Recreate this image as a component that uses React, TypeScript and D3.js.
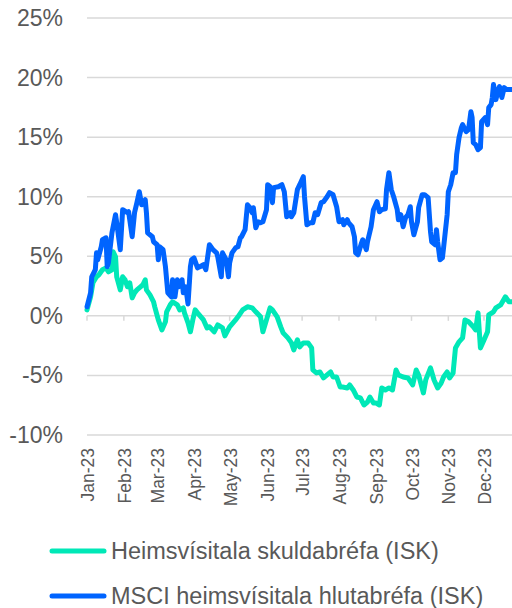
import * as d3 from 'd3'

// day offsets from 1 Jan 2023 and % change
const bondDays = [0, 3, 5, 8, 10, 13, 16, 18, 21, 22, 24, 25, 28, 30, 32, 34, 36, 38, 40, 42, 45, 47, 49, 50, 53, 56, 57, 60, 63, 66, 67, 70, 72, 76, 78, 81, 82, 85, 87, 89, 91, 93, 98, 101, 103, 107, 110, 114, 116, 120, 125, 127, 131, 135, 139, 142, 146, 148, 151, 154, 156, 160, 163, 165, 169, 172, 174, 177, 179, 182, 186, 189, 190, 193, 196, 199, 202, 205, 207, 210, 213, 215, 219, 221, 224, 227, 230, 233, 236, 238, 241, 243, 246, 248, 251, 254, 257, 260, 262, 266, 270, 274, 277, 279, 283, 285, 289, 292, 295, 298, 300, 303, 305, 308, 310, 313, 316, 318, 321, 325, 327, 329, 331, 334, 337, 338, 342, 344, 348, 352, 355, 358, 362]
const bondVals = [0.5, 1.6, 2.77, 3.28, 3.45, 3.87, 4.03, 3.7, 3.87, 5.38, 4.96, 3.28, 2.18, 3.28, 3.03, 2.44, 2.77, 1.51, 1.93, 2.18, 2.44, 2.61, 3.03, 2.18, 1.76, 1.18, 0.76, -0.34, -1.18, -0.5, 0.34, 0.92, 1.18, 0.92, 0.5, 0.67, 0.25, -0.59, -1.34, -0.34, 0.5, 0.25, -0.34, -1.01, -0.92, -1.34, -0.76, -1.01, -1.68, -0.92, -0.34, -0.08, 0.5, 0.76, 0.67, 0.34, -0.08, -1.34, -0.34, 0.67, 0.5, -0.08, -0.92, -1.43, -1.85, -2.27, -2.86, -2.02, -2.61, -2.27, -2.27, -2.69, -4.54, -4.79, -4.71, -5.21, -4.96, -4.71, -5.13, -5.13, -5.97, -5.97, -6.05, -5.8, -6.22, -6.81, -6.89, -7.48, -7.23, -6.81, -7.31, -7.31, -7.48, -6.05, -6.22, -6.05, -6.22, -4.54, -4.96, -5.13, -5.21, -5.8, -4.54, -4.96, -6.47, -5.38, -4.37, -5.38, -6.05, -5.63, -5.13, -4.71, -5.21, -4.79, -2.69, -2.18, -1.85, -0.34, -0.5, -0.92, -1.18, 0.25, -2.69, -2.02, -1.34, 0.08, 0.34, 0.67, 0.92, 1.6, 1.18, 1.18, 1.2]

const equityDays = [0, 3, 4, 7, 8, 9, 12, 13, 16, 17, 18, 21, 24, 25, 28, 30, 34, 35, 38, 40, 42, 44, 46, 49, 50, 51, 55, 56, 59, 60, 61, 64, 66, 68, 71, 72, 74, 76, 77, 80, 81, 83, 85, 87, 88, 90, 93, 95, 98, 100, 102, 103, 106, 109, 110, 113, 114, 117, 119, 120, 122, 125, 127, 129, 130, 133, 135, 137, 139, 140, 142, 144, 146, 148, 151, 152, 154, 156, 157, 161, 164, 166, 168, 171, 172, 174, 177, 179, 182, 183, 185, 188, 190, 192, 194, 197, 199, 202, 204, 207, 210, 212, 215, 216, 219, 220, 223, 225, 226, 228, 231, 232, 235, 236, 239, 241, 244, 246, 248, 251, 252, 254, 256, 258, 261, 262, 264, 266, 268, 270, 272, 273, 275, 278, 279, 282, 284, 287, 289, 290, 293, 294, 295, 297, 299, 300, 303, 304, 306, 308, 310, 311, 313, 315, 316, 319, 321, 323, 324, 325, 327, 329, 331, 332, 335, 337, 338, 340, 341, 342, 344, 346, 347, 349, 351, 353, 356, 358, 362]
const equityVals = [0.76, 1.93, 3.28, 3.87, 5.29, 4.71, 5.8, 6.39, 6.55, 4.12, 4.45, 6.97, 8.49, 7.82, 5.55, 8.91, 8.66, 8.74, 6.64, 8.66, 9.5, 10.42, 9.33, 9.75, 8.66, 6.97, 6.64, 6.22, 5.97, 4.71, 5.8, 5.55, 4.12, 1.93, 1.6, 3.03, 1.6, 3.03, 2.44, 3.03, 1.93, 2.44, 1.0, 4.12, 4.71, 4.87, 4.03, 4.12, 4.29, 3.87, 5.29, 5.97, 5.55, 5.29, 4.96, 3.28, 5.29, 4.71, 3.28, 4.45, 5.29, 5.71, 5.8, 6.55, 6.64, 7.23, 9.33, 9.08, 8.66, 9.08, 7.39, 7.9, 7.82, 7.9, 8.91, 11.01, 10.84, 9.5, 10.76, 10.84, 11.01, 10.42, 8.32, 8.66, 8.32, 8.66, 10.59, 11.01, 11.68, 10.0, 7.65, 7.82, 7.82, 8.66, 8.49, 9.5, 9.58, 10.0, 10.34, 10.17, 9.16, 7.9, 8.07, 7.65, 8.07, 7.82, 7.48, 6.64, 5.29, 5.13, 6.13, 6.39, 5.55, 6.22, 7.48, 8.91, 9.58, 8.74, 8.91, 8.99, 10.59, 12.02, 10.59, 10.0, 8.91, 8.07, 8.49, 7.48, 8.24, 8.49, 9.16, 7.9, 6.81, 7.9, 9.08, 10.17, 10.17, 9.92, 7.06, 6.22, 5.97, 7.23, 6.22, 4.71, 4.87, 5.71, 8.49, 10.42, 11.01, 12.02, 12.02, 13.53, 14.96, 15.8, 16.05, 15.46, 15.63, 17.14, 16.64, 14.54, 14.37, 13.95, 14.12, 16.3, 16.64, 16.05, 17.48, 17.73, 18.32, 19.41, 18.15, 18.99, 19.24, 18.32, 19.16, 18.99, 18.99, 18.99, 19.0]

const yTicks = [-10, -5, 0, 5, 10, 15, 20, 25]
const seriesNames = ['Heimsvísitala skuldabréfa (ISK)', 'MSCI heimsvísitala hlutabréfa (ISK)']
const seriesColors = ['#00E8B7', '#0064FF']

const W = 512
const H = 608
const font = '"Liberation Sans", Arial, Helvetica, sans-serif'
const textColor = '#595959'
const start = new Date(2023, 0, 1)

export default function App() {
  const x = d3.scaleTime()
    .domain([start, new Date(2023, 11, 31)])
    .range([87, 87 + 364 * 1.1886])
  const y = d3.scaleLinear().domain([-10, 25]).range([435, 18])

  const toPts = (days: number[], vals: number[]) =>
    days.map((d, i) => ({ date: d3.timeDay.offset(start, d), v: vals[i] }))
  const series = [toPts(bondDays, bondVals), toPts(equityDays, equityVals)]

  const line = d3.line<{ date: Date; v: number }>()
    .x(d => x(d.date))
    .y(d => y(d.v))

  const months = d3.timeMonth.range(start, new Date(2024, 0, 1))
  const fmt = d3.timeFormat('%b-%y')

  return (
    <svg width={W} height={H} style={{ position: 'absolute', left: 0, top: 0, background: '#fff' }}
      fontFamily={font}>
      {/* grid + y labels */}
      {yTicks.map(t => (
        <g key={t}>
          <line x1={87} x2={W} y1={y(t)} y2={y(t)} stroke="#d9d9d9" strokeWidth={1.5} />
          <text x={63} y={y(t)} dy="0.35em" textAnchor="end" fontSize={23} fill={textColor}>{t}%</text>
        </g>
      ))}

      {/* month ticks on the zero line + labels */}
      {months.map(m => (
        <g key={m.getTime()}>
          <line x1={x(m)} x2={x(m)} y1={y(0)} y2={y(0) + 5} stroke="#d9d9d9" strokeWidth={1.5} />
          <text transform={`translate(${x(m) + 1},448) rotate(-90)`} dy="0.35em" textAnchor="end"
            fontSize={17.5} fill={textColor}>{fmt(m)}</text>
        </g>
      ))}

      {/* lines */}
      {series.map((s, i) => (
        <path key={i} d={line(s) ?? ''} fill="none" stroke={seriesColors[i]} strokeWidth={5}
          strokeLinejoin="round" strokeLinecap="round" />
      ))}

      {/* legend */}
      {seriesNames.map((n, i) => (
        <g key={n} transform={`translate(0,${551 + i * 45})`}>
          <line x1={52} x2={104} y1={0} y2={0} stroke={seriesColors[i]} strokeWidth={5} strokeLinecap="round" />
          <text x={111} y={0} dy="0.33em" fontSize={23.5} fill={textColor}>{n}</text>
        </g>
      ))}
    </svg>
  )
}
